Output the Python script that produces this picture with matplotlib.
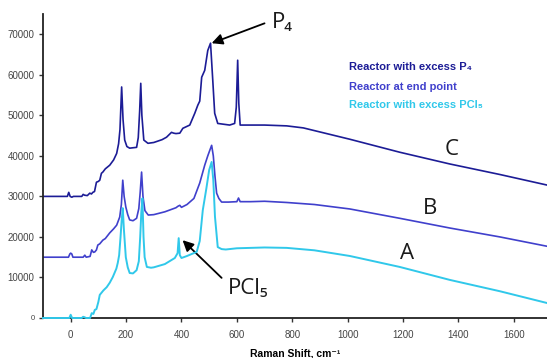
import numpy as np
import matplotlib.pyplot as plt

# === Spectra (Raman shift, intensity) ===
shift_c = [-100, -12, -7, -2, 4, 10, 40, 45, 50, 60, 69, 75, 80, 86, 93, 100, 105,
           111, 116, 125, 141, 155, 166, 173, 178, 184, 189, 195, 203, 213, 225,
           238, 244, 249, 253, 257, 264, 279, 300, 330, 346, 364, 372, 380, 394,
           405, 430, 448, 459, 466, 473, 484, 495, 505, 513, 520, 531, 574, 592,
           598, 603, 607, 612, 700, 780, 840, 900, 1008, 1188, 1369, 1550, 1720]
excess_p4 = [30000, 30000, 31000, 30000, 29800, 30000, 30000, 30500, 30300, 30200,
             30800, 30600, 31000, 31200, 33500, 33700, 34000, 35700, 36000, 36800,
             37700, 39000, 40600, 43000, 46500, 57000, 49000, 43900, 42300, 41900,
             42000, 42100, 44500, 51000, 57900, 50000, 43900, 43100, 43300, 44000,
             44600, 45800, 45600, 45500, 45600, 46800, 47600, 50500, 52500, 53500,
             59400, 61100, 66000, 67800, 58700, 50500, 48000, 47600, 48000, 52000,
             63600, 53000, 47600, 47600, 47400, 46900, 45900, 44100, 40900, 38000,
             35400, 32800]

shift_b = [-100, -8, -3, 0, 4, 8, 45, 51, 56, 70, 76, 82, 87, 93, 98, 105, 116, 125,
           141, 155, 166, 177, 183, 188, 193, 199, 206, 213, 225, 238, 246, 251,
           256, 261, 268, 280, 300, 340, 380, 388, 394, 400, 420, 445, 466, 484,
           495, 503, 509, 515, 521, 527, 535, 545, 570, 600, 606, 612, 650, 700,
           780, 880, 1008, 1188, 1369, 1550, 1720]
end_point = [15000, 15000, 15800, 16000, 15800, 15000, 15000, 15500, 15000, 15200,
             16800, 16200, 16300, 16800, 18000, 18300, 19200, 19600, 21000, 22000,
             22900, 24900, 28000, 34000, 30000, 27400, 25500, 24200, 24000, 24600,
             27000, 31000, 36000, 30000, 26500, 25400, 25500, 26200, 27200, 27600,
             27800, 27300, 28000, 29500, 33300, 37700, 40000, 41500, 42600, 40000,
             35000, 30800, 29500, 28600, 28600, 28700, 29600, 28700, 28700, 28800,
             28500, 28000, 26900, 24600, 22200, 20000, 17700]

shift_a = [-100, -5, 0, 5, 40, 45, 50, 55, 70, 76, 82, 87, 93, 100, 105, 118, 130,
           141, 152, 165, 170, 175, 180, 184, 188, 192, 199, 206, 213, 225, 238,
           246, 251, 255, 259, 263, 267, 275, 290, 300, 340, 376, 386, 390, 394,
           400, 420, 455, 466, 477, 490, 500, 509, 515, 521, 531, 545, 560, 600,
           700, 780, 880, 1008, 1188, 1369, 1550, 1720]
excess_pcl5 = [0, 0, 800, 0, 0, 300, 200, 0, 0, 1200, 1000, 2000, 2200, 4000, 5700,
               6800, 7600, 8700, 10100, 12200, 13600, 15500, 20000, 24000, 27100,
               22000, 15000, 12500, 11100, 11000, 11800, 14000, 20000, 26000, 29500,
               20000, 15000, 12600, 12400, 12500, 13300, 14800, 16000, 19700, 15500,
               14800, 15300, 16300, 19000, 26600, 32000, 36500, 38500, 34000, 25000,
               17500, 17000, 16900, 17200, 17400, 17300, 16700, 15300, 12600, 9400,
               6600, 3700]

series_names = ["Reactor with excess P\u2084", "Reactor at end point",
                "Reactor with excess PCl\u2085"]
series_colors = ["#1c1c96", "#4040cc", "#30c8ea"]
curve_letters = ["C", "B", "A"]

x_ticks = [0, 200, 400, 600, 800, 1000, 1200, 1400, 1600]
y_ticks = [0, 10000, 20000, 30000, 40000, 50000, 60000, 70000]

# === Plot ===
fig = plt.figure(figsize=(5.47, 3.58), dpi=100)
ax = fig.add_axes([43 / 547, 40 / 358, 1 - 43 / 547, 304 / 358])

ax.plot(shift_c, excess_p4, color=series_colors[0], lw=1.2)
ax.plot(shift_b, end_point, color=series_colors[1], lw=1.2)
ax.plot(shift_a, excess_pcl5, color=series_colors[2], lw=1.4, clip_on=False,
        zorder=4)

ax.set_xlim(-100, 1720)
ax.set_ylim(0, 75000)
ax.set_xticks(x_ticks)
ax.set_yticks(y_ticks)
ax.set_xticklabels([str(t) for t in x_ticks], fontsize=7, color="#444444",
                   family="Liberation Sans")
ax.set_yticklabels([str(t) for t in y_ticks], fontsize=7, color="#444444",
                   family="Liberation Sans")
ax.get_yticklabels()[0].set_fontsize(5.5)
ax.tick_params(axis="x", length=3, width=1, pad=6, color="#333333")
ax.tick_params(axis="y", length=3, width=1, pad=3, color="#333333")

for side in ["top", "right"]:
    ax.spines[side].set_visible(False)
for side in ["left", "bottom"]:
    ax.spines[side].set_linewidth(1.3)
    ax.spines[side].set_color("#222222")

ax.set_xlabel("Raman Shift, cm\u207b\u00b9", fontsize=7.5, fontweight="bold",
              family=["Liberation Sans", "DejaVu Sans"], labelpad=6)

# legend drawn as coloured text
legend_y = [61900, 56900, 52500]
for name, col, ly in zip(series_names, series_colors, legend_y):
    ax.text(1004, ly, name, color=col, fontsize=8, fontweight="bold",
            family=["Liberation Sans", "DejaVu Sans"], va="center", ha="left")

# curve letters
letter_pos = [(1376, 41600), (1297, 26900), (1213, 16000)]
for letter, (lx, ly) in zip(curve_letters, letter_pos):
    ax.text(lx, ly, letter, fontsize=16, family="Open Sans", color="#1a1a1a",
            ha="center", va="center")

# peak annotations
arrow_style = dict(arrowstyle="-|>", color="black", lw=1.3, mutation_scale=16,
                   shrinkA=0, shrinkB=0)
ax.annotate("", xy=(509, 67800), xytext=(700, 72700), arrowprops=arrow_style)
ax.text(726, 72800, "P\u2084", fontsize=16, family=["Open Sans", "DejaVu Sans"],
        color="#1a1a1a", va="center", ha="left")
ax.annotate("", xy=(404, 19200), xytext=(545, 9900), arrowprops=arrow_style)
ax.text(566, 7200, "PCl\u2085", fontsize=16, family=["Open Sans", "DejaVu Sans"],
        color="#1a1a1a", va="center", ha="left")

plt.savefig("out.png", dpi=100)
